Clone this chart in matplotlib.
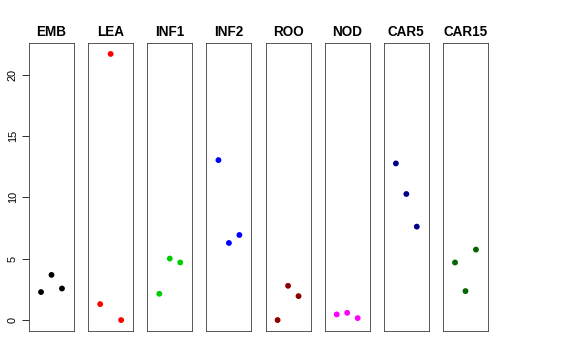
import matplotlib
matplotlib.use("Agg")
import matplotlib.pyplot as plt

plt.rcParams['font.family'] = ['Liberation Sans', 'DejaVu Sans']

tissues = ["EMB", "LEA", "INF1", "INF2", "ROO", "NOD", "CAR5", "CAR15"]
colors = ["black", "red", "#00CD00", "blue", "#8B0000", "magenta", "#00008B", "#006400"]
reps = [1, 2, 3]
values = {
    "EMB": [2.28, 3.68, 2.57],
    "LEA": [1.30, 21.68, 0.0],
    "INF1": [2.14, 5.01, 4.69],
    "INF2": [13.03, 6.28, 6.93],
    "ROO": [0.0, 2.79, 1.95],
    "NOD": [0.46, 0.59, 0.16],
    "CAR5": [12.76, 10.27, 7.61],
    "CAR15": [4.69, 2.36, 5.74],
}

fig = plt.figure(figsize=(8, 5), dpi=72)
ymin, ymax = 0.0, 21.68
pad = (ymax - ymin) * 0.04

left0 = 29 / 576
step = 59.14 / 576
w = 45 / 576
bottom = (360 - 330.7) / 360
h = (330.7 - 43.3) / 360

for i, (name, col) in enumerate(zip(tissues, colors)):
    ax = fig.add_axes([left0 + i * step, bottom, w, h])
    ax.scatter(reps, values[name], s=34, color=col, edgecolors="none")
    ax.set_xlim(2 - 2.15, 2 + 2.15)
    ax.set_ylim(ymin - pad, ymax + pad)
    ax.set_xticks([])
    ax.set_title(name, fontsize=13.5, fontweight="bold", pad=7)
    for sp in ax.spines.values():
        sp.set_linewidth(0.8)
        sp.set_color("#333333")
    if i == 0:
        ax.set_yticks([0, 5, 10, 15, 20])
        ax.tick_params(axis="y", labelsize=11, length=7, width=0.8, pad=4)
        for lab in ax.get_yticklabels():
            lab.set_rotation(90)
            lab.set_va("center")
    else:
        ax.set_yticks([])

plt.savefig("out.png", dpi=72)
plt.close()
